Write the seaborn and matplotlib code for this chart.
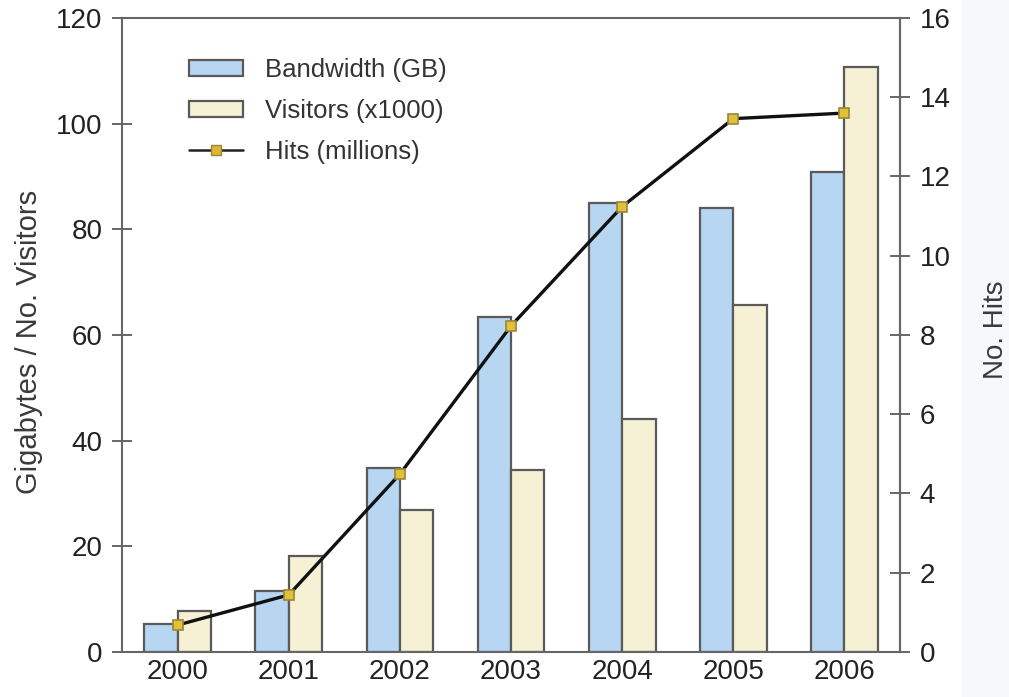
import numpy as np
import pandas as pd
import seaborn as sns
import matplotlib.pyplot as plt
from matplotlib.lines import Line2D
from matplotlib.patches import Patch, Rectangle

# values
years = ["2000", "2001", "2002", "2003", "2004", "2005", "2006"]
bandwidth_gb = [5.3, 11.5, 34.8, 63.4, 85.0, 84.0, 90.9]
visitors_k = [7.8, 18.2, 26.9, 34.4, 44.1, 65.7, 110.7]
hits_m = [0.68, 1.44, 4.49, 8.23, 11.24, 13.46, 13.6]

blue = "#b7d6f2"
cream = "#f6f0d4"
edge = "#5a5a5a"

sns.set_style("white")
plt.rcParams["font.family"] = ["Liberation Sans", "DejaVu Sans"]

df = pd.DataFrame({
    "year": years * 2,
    "value": bandwidth_gb + visitors_k,
    "series": ["Bandwidth (GB)"] * len(years) + ["Visitors (x1000)"] * len(years),
})

fig = plt.figure(figsize=(10.09, 6.97), dpi=100)
fig.patches.append(Rectangle((0.953, 0), 0.047, 1, transform=fig.transFigure,
                             color="#f7f8fa", zorder=-1))
ax = fig.add_axes([0.121, 0.0646, 0.771, 0.9096])
ax.patch.set_alpha(0)

sns.barplot(data=df, x="year", y="value", hue="series", order=years,
            palette=[blue, cream], width=0.6, edgecolor=edge, linewidth=1.6,
            saturation=1, ax=ax, legend=False)
ax.set_xlim(-0.5, 6.5)
ax.set_ylim(0, 120)
ax.set_yticks(range(0, 121, 20))
ax.set_xlabel("")
ax.set_ylabel("Gigabytes / No. Visitors", fontsize=21, color="#3a3a3a")
ax.yaxis.set_label_coords(-0.102, 0.489)

ax2 = ax.twinx()
sns.lineplot(x=np.arange(len(years)), y=hits_m, ax=ax2, color="#111111",
             linewidth=2.4, marker="s", markersize=7.5,
             markerfacecolor="#e2c13a", markeredgecolor="#9a8636",
             markeredgewidth=1.2, zorder=5)
ax2.set_ylim(0, 16)
ax2.set_yticks(range(0, 17, 2))
ax2.set_ylabel("No. Hits", fontsize=20, color="#3a3a3a")
ax2.yaxis.set_label_coords(1.107, 0.508)

for a in (ax, ax2):
    for s in a.spines.values():
        s.set_color("#666666")
        s.set_linewidth(1.5)
ax2.spines["left"].set_visible(False)
ax2.spines["bottom"].set_visible(False)
ax2.spines["top"].set_visible(False)

ax.tick_params(axis="y", direction="inout", length=14, width=1.4,
               color="#666666", labelsize=20, labelcolor="#222222", pad=7)
ax.tick_params(axis="x", length=0, labelsize=20, labelcolor="#222222", pad=5)
ax2.tick_params(axis="y", direction="inout", length=14, width=1.4,
                color="#666666", labelsize=20, labelcolor="#222222", pad=7)

handles = [
    Patch(facecolor=blue, edgecolor=edge, linewidth=1.6),
    Patch(facecolor=cream, edgecolor=edge, linewidth=1.6),
    Line2D([], [], color="#222222", linewidth=1.8, marker="s", markersize=7,
           markerfacecolor="#d9b838", markeredgecolor="#9a8636"),
]
labels = ["Bandwidth (GB)", "Visitors (x1000)", "Hits (millions)"]
ax.legend(handles, labels, loc="upper left", bbox_to_anchor=(0.056, 0.973),
          frameon=False, fontsize=18.5, handlelength=2.1, handleheight=0.55,
          handletextpad=0.85, labelspacing=0.65, labelcolor="#333333")

fig.savefig("out.png", dpi=100)
